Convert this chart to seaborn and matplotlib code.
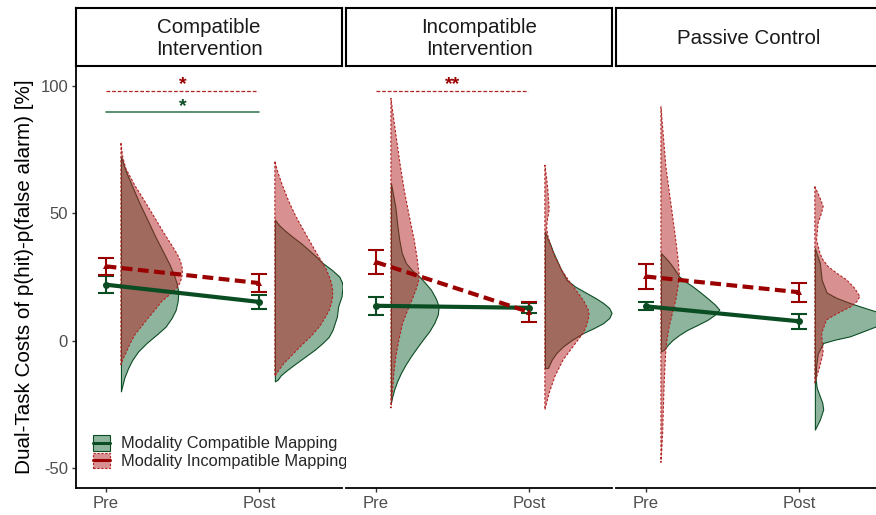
import numpy as np
import pandas as pd
import matplotlib
matplotlib.use("Agg")
import matplotlib.pyplot as plt
import seaborn as sns
from matplotlib.patches import Rectangle
from matplotlib.lines import Line2D
from matplotlib.legend_handler import HandlerBase

# ---- data ----
conditions = ["Compatible\nIntervention", "Incompatible\nIntervention", "Passive Control"]
sessions = ["Pre", "Post"]
mappings = ["Modality Compatible Mapping", "Modality Incompatible Mapping"]

# mean and error (per condition: [Pre, Post])
compat_mean = [[22.0, 15.2], [13.7, 12.9], [13.5, 7.6]]
compat_err = [[3.3, 2.7], [3.5, 2.0], [1.6, 3.0]]
incompat_mean = [[29.2, 22.6], [30.9, 11.2], [25.2, 19.0]]
incompat_err = [[3.3, 3.5], [4.7, 3.9], [5.0, 3.7]]

# half-violin profiles: (value, width in x units)
dens_ci_pre_c = [(72.3, 0), (66.0, .035), (61.2, .069), (54.0, .120), (48.1, .167), (41.0, .222),
                 (35.0, .273), (30.0, .315), (25.9, .344), (22.5, .362), (20.0, .370), (17.5, .371),
                 (15.4, .368), (12.0, .355), (8.9, .329), (5.5, .290), (2.4, .232), (-1.0, .165),
                 (-4.2, .112), (-7.5, .074), (-10.7, .047), (-14.5, .022), (-18.6, .005), (-19.9, 0)]
dens_ci_pre_i = [(77.5, 0), (72.0, .012), (67.7, .031), (61.0, .090), (54.6, .156), (48.0, .222),
                 (41.6, .286), (37.5, .330), (33.7, .368), (31.0, .388), (28.5, .398), (26.5, .399),
                 (24.6, .394), (22.5, .382), (20.7, .362), (18.0, .315), (15.4, .264), (12.0, .220),
                 (8.9, .177), (5.5, .132), (2.4, .091), (-1.0, .060), (-4.2, .037), (-7.0, .015), (-9.4, 0)]
dens_ci_post_c = [(47.5, 0), (45.5, .025), (43.5, .060), (41.0, .110), (38.3, .169), (35.5, .222),
                  (33.1, .266), (30.5, .310), (27.8, .370), (25.2, .418), (23.0, .435), (21.3, .440),
                  (17.4, .433), (13.5, .411), (9.5, .403), (4.3, .375), (1.5, .350), (-0.9, .310),
                  (-3.5, .260), (-6.1, .201), (-9.0, .135), (-11.4, .082), (-13.5, .040), (-15.3, .018),
                  (-16.0, 0)]
dens_ci_post_i = [(70.3, 0), (66.0, .020), (61.8, .044), (55.0, .088), (48.8, .136), (43.5, .185),
                  (38.3, .234), (34.2, .273), (30.5, .310), (27.8, .335), (25.2, .353), (22.5, .368),
                  (20.0, .375), (17.4, .375), (14.8, .368), (12.0, .353), (9.5, .331), (5.5, .290),
                  (1.7, .234), (-2.0, .170), (-6.1, .104), (-9.0, .058), (-11.4, .028), (-14.0, 0)]
dens_ii_pre_c = [(61.8, 0), (52.7, .028), (45.0, .042), (39.6, .054), (34.5, .070), (30.5, .097),
                 (27.8, .135), (25.2, .184), (22.5, .225), (20.0, .260), (16.5, .292), (13.5, .310),
                 (10.2, .304), (6.9, .281), (3.6, .248), (0.3, .206), (-3.0, .166), (-6.1, .130),
                 (-9.4, .095), (-12.7, .065), (-16.0, .040), (-19.2, .021), (-22.0, .008), (-24.4, 0)]
dens_ii_pre_i = [(95.2, 0), (87.0, .018), (78.8, .037), (69.0, .060), (59.2, .086), (49.5, .117),
                 (39.6, .151), (32.5, .170), (25.2, .184), (22.6, .176), (20.0, .162), (16.8, .142),
                 (13.5, .119), (10.2, .097), (6.9, .076), (0.5, .052), (-6.1, .032), (-12.7, .019),
                 (-19.2, .011), (-26.4, 0)]
dens_ii_post_c = [(42.9, 0), (40.5, .015), (38.3, .032), (35.0, .052), (31.8, .076), (27.8, .106),
                  (23.9, .141), (21.3, .195), (18.7, .271), (16.7, .330), (14.8, .379), (12.8, .418),
                  (10.9, .433), (8.9, .418), (6.9, .379), (5.0, .320), (3.0, .249), (0.4, .178),
                  (-2.2, .119), (-4.8, .075), (-7.5, .044), (-10.7, .020), (-10.7, 0)]
dens_ii_post_i = [(69.0, 0), (63.5, .012), (57.9, .021), (51.4, .028), (48.0, .018), (44.8, .011),
                  (41.5, .018), (38.3, .032), (33.0, .065), (27.8, .108), (23.2, .160), (18.7, .216),
                  (15.4, .254), (12.2, .281), (10.2, .287), (8.2, .281), (5.6, .268), (3.0, .249),
                  (-2.2, .184), (-7.5, .119), (-14.0, .065), (-20.5, .028), (-27.1, 0)]
dens_pc_pre_c = [(34.4, 0), (31.5, .045), (29.1, .076), (25.2, .119), (23.2, .160), (21.3, .206),
                 (18.7, .262), (16.1, .314), (14.1, .352), (12.2, .379), (10.2, .350), (8.2, .303),
                 (6.2, .238), (4.3, .173), (2.3, .120), (0.3, .076), (-1.6, .045), (-3.5, .021), (-4.2, 0)]
dens_pc_pre_i = [(91.9, 0), (80.0, .016), (68.4, .032), (58.5, .054), (48.7, .076), (42.0, .091),
                 (35.7, .104), (31.0, .113), (26.5, .119), (21.3, .111), (16.1, .097), (11.0, .075),
                 (5.6, .054), (1.0, .041), (-3.5, .032), (-10.0, .026), (-16.6, .021), (-26.0, .016),
                 (-36.2, .011), (-42.0, .006), (-47.8, 0)]
dens_pc_post_c = [(36.3, 0), (30.5, .032), (23.9, .044), (18.9, .076), (16.8, .140), (14.8, .227),
                  (13.1, .312), (11.5, .396), (10.0, .470), (8.4, .532), (7.0, .470), (5.6, .396),
                  (3.6, .310), (1.7, .227), (0.4, .130), (-0.9, .054), (-5.0, .019), (-10.0, .008),
                  (-15.3, .005), (-18.5, .012), (-21.8, .032), (-24.4, .048), (-27.0, .054),
                  (-31.0, .032), (-34.9, 0)]
dens_pc_post_i = [(60.5, 0), (56.5, .030), (52.7, .054), (49.5, .040), (46.2, .021), (39.6, .011),
                  (34.4, .032), (31.8, .052), (29.1, .086), (26.5, .142), (23.9, .206), (20.6, .258),
                  (17.4, .292), (15.5, .275), (13.5, .238), (10.8, .150), (8.2, .076), (3.0, .044),
                  (-0.8, .048), (-4.8, .054), (-10.1, .032), (-16.6, 0)]

dens_comp = [[dens_ci_pre_c, dens_ci_post_c], [dens_ii_pre_c, dens_ii_post_c], [dens_pc_pre_c, dens_pc_post_c]]
dens_incomp = [[dens_ci_pre_i, dens_ci_post_i], [dens_ii_pre_i, dens_ii_post_i], [dens_pc_pre_i, dens_pc_post_i]]

# significance brackets
sig_panel = [0, 0, 1]
sig_mapping = [1, 0, 1]
sig_y = [98.0, 89.8, 98.0]
sig_label = ["*", "*", "**"]

# ---- styling ----
green_line = "#0b4d23"
green_fill = (0.118, 0.42, 0.235, 0.5)
red_line = "#9b0000"
red_edge = "#b22222"
red_fill = (0.698, 0.133, 0.133, 0.5)
sig_green = "#3a7d55"

sns.set_theme(style="ticks")
plt.rcParams["font.family"] = ["Liberation Sans", "DejaVu Sans"]
plt.rcParams["axes.unicode_minus"] = False


class KeyHandler(HandlerBase):
    # box with fill + horizontal line across, like the ggplot legend keys
    def create_artists(self, legend, orig_handle, xdescent, ydescent, width, height, fontsize, trans):
        fc, ec, ls, lc = orig_handle
        r = Rectangle((-xdescent, -ydescent), width, height, facecolor=fc, edgecolor=ec,
                      linestyle=ls, linewidth=0.8, transform=trans)
        ln = Line2D([-xdescent, -xdescent + width], [-ydescent + height / 2] * 2,
                    color=lc, lw=2.2, transform=trans)
        return [r, ln]


class Key:
    def __init__(self, *args):
        self.args = args

    def __iter__(self):
        return iter(self.args)


rows = []
for i, c in enumerate(conditions):
    for j, s in enumerate(sessions):
        rows.append(dict(condition=c, x=j + 1, mapping=mappings[0], mean=compat_mean[i][j], err=compat_err[i][j]))
        rows.append(dict(condition=c, x=j + 1, mapping=mappings[1], mean=incompat_mean[i][j], err=incompat_err[i][j]))
df = pd.DataFrame(rows)

W, H = 876, 515
fig = plt.figure(figsize=(W / 100, H / 100), dpi=100)

panel_left = [76, 346, 616]
panel_w = 266
ax_top, ax_bot = 67, 488

for i, cond in enumerate(conditions):
    l = panel_left[i]
    ax = fig.add_axes([l / W, 1 - ax_bot / H, panel_w / W, (ax_bot - ax_top) / H])

    # half violins
    for j in range(2):
        base = j + 1 + 0.1
        for prof, fc, ec, ls, z in [(dens_comp[i][j], green_fill, green_line, "-", 2),
                                    (dens_incomp[i][j], red_fill, red_edge, (0, (2.2, 1.6)), 3)]:
            yv = np.array([p[0] for p in prof])
            wv = np.array([p[1] for p in prof])
            ax.fill_betweenx(yv, base, base + wv, facecolor=fc, edgecolor=ec,
                             linestyle=ls, linewidth=0.8, zorder=z)

    sub = df[df.condition == cond]
    for k, m in enumerate(mappings):
        s = sub[sub.mapping == m]
        col = green_line if k == 0 else red_line
        ax.errorbar(s.x, s["mean"], yerr=s.err, fmt="none", ecolor=col,
                    elinewidth=1.5, capsize=5.8, capthick=1.5, zorder=5)

    sns.lineplot(data=sub, x="x", y="mean", hue="mapping", style="mapping",
                 palette=[green_line, red_line], dashes=["", (2.6, 1.3)],
                 markers=["o", "^"], markersize=5, markeredgewidth=0,
                 linewidth=3.0, legend=False, ax=ax, zorder=6)

    for p, mp, y, lab in zip(sig_panel, sig_mapping, sig_y, sig_label):
        if p != i:
            continue
        if mp == 1:
            ax.plot([1, 1.99], [y, y], color=red_edge, lw=0.9, ls=(0, (3, 1.5)), zorder=3)
            ax.text(1.5, y + 0.6, lab, color=red_line, fontsize=14, fontweight="bold",
                    ha="center", va="baseline")
        else:
            ax.plot([1, 2.0], [y, y], color=sig_green, lw=1.2, zorder=3)
            ax.text(1.5, y + 0.2, lab, color=green_line, fontsize=14, fontweight="bold",
                    ha="center", va="baseline")

    ax.set_xlim(0.808, 2.536)
    ax.set_ylim(-57.85, 107.46)
    ax.set_xticks([1, 2])
    ax.set_xticklabels(sessions)
    ax.set_yticks([-50, 0, 50, 100])
    ax.set_xlabel("")
    ax.set_ylabel("")
    ax.set_facecolor("white")
    for sp in ["top", "right"]:
        ax.spines[sp].set_visible(False)
    ax.spines["bottom"].set_linewidth(1.3)
    ax.spines["left"].set_linewidth(1.3)
    ax.spines["bottom"].set_color("black")
    ax.spines["left"].set_color("black")
    ax.tick_params(axis="both", length=3.2, width=1.0, color="#333333",
                   labelsize=12, labelcolor="#4d4d4d", pad=2.5)
    if i > 0:
        ax.spines["left"].set_visible(False)
        ax.tick_params(axis="y", left=False, labelleft=False)

    # facet strip
    sax = fig.add_axes([l / W, 1 - 66 / H, panel_w / W, 58 / H])
    sax.set_xticks([])
    sax.set_yticks([])
    sax.set_facecolor("white")
    for sp in sax.spines.values():
        sp.set_linewidth(1.5)
        sp.set_color("black")
    sax.text(0.5, 0.47, cond, ha="center", va="center", fontsize=14.8,
             color="#1a1a1a", linespacing=1.2, transform=sax.transAxes)

    if i == 0:
        handles = [Key(green_fill, green_line, "-", green_line),
                   Key(red_fill, red_edge, (0, (2, 1.5)), red_line)]
        ax.legend(handles, mappings, handler_map={Key: KeyHandler()},
                  loc="lower left", bbox_to_anchor=((93 - 76) / panel_w, (ax_bot - 469) / (ax_bot - ax_top)),
                  frameon=False, borderpad=0, borderaxespad=0, handlelength=1.05,
                  handleheight=1.05, handletextpad=0.65, labelspacing=0.08, fontsize=11.8)

fig.text(25 / W, 1 - 277 / H, "Dual-Task Costs of p(hit)-p(false alarm) [%]", rotation=90,
         ha="center", va="center", fontsize=14.9, color="black")

fig.savefig("out.png", dpi=100)
